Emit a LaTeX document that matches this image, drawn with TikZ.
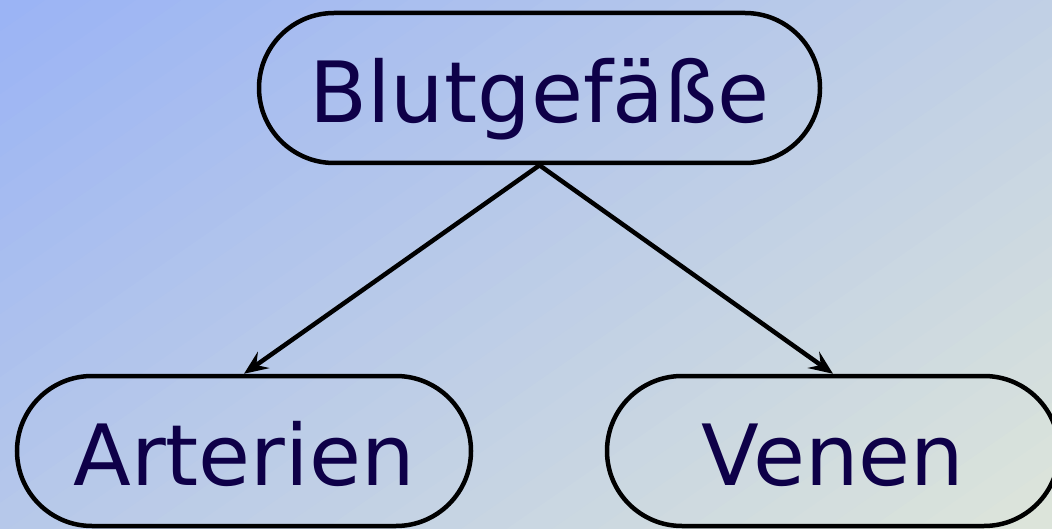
\documentclass[tikz,border=0pt]{standalone}
\usepackage{fontspec}
\setmainfont{DejaVu Sans}
\usetikzlibrary{arrows.meta}
\definecolor{hgoben}{RGB}{154,179,245}
\definecolor{hgunten}{RGB}{221,229,218}
\definecolor{schrift}{RGB}{14,0,72}
\begin{document}
\begin{tikzpicture}[%
        x = 1pt, y = 1pt,
        gefaess/.style = {draw, line width=4.5pt, rounded corners=75pt,
          minimum height=150pt, text=schrift, text height=69pt, text depth=0pt,
          font=\fontsize{84.5}{100}\selectfont},
        pfeil/.style = {line width=4.5pt, -{Stealth[length=24pt, width=20pt, inset=9pt]}}
    ]
      \useasboundingbox (0,0) rectangle (1052,528);
      \clip (0,0) rectangle (1052,528);
      % diagonal background, top left to bottom right
      \foreach \k in {0,...,39} {
        \pgfmathsetmacro\ta{\k/40}
        \pgfmathsetmacro\tb{(\k+1)/40+0.005}
        \pgfmathsetmacro\pc{100-(\k+0.5)*2.5}
        \fill[hgoben!\pc!hgunten] (\ta/0.58*1052,528) -- (0,528-\ta/0.42*528)
          -- (0,528-\tb/0.42*528) -- (\tb/0.58*1052,528) -- cycle;
      }
      \node[gefaess, minimum width=561pt] (g) at (539.5,440) {Blutgefäße};
      \node[gefaess, minimum width=454pt] (a) at (244,77) {Arterien};
      \node[gefaess, minimum width=452pt] (v) at (833,77) {Venen};
      \draw[pfeil] (g.south) -- (a.north);
      \draw[pfeil] (g.south) -- (v.north);
    \end{tikzpicture}
\end{document}
